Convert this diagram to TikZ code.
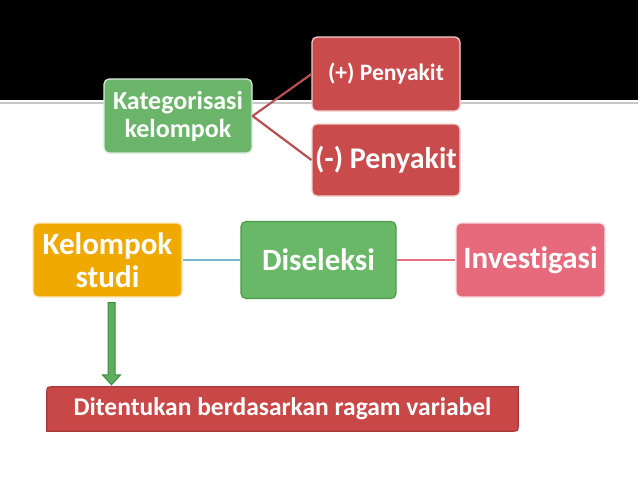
\documentclass[tikz,border=0pt]{standalone}
\usepackage{fontspec}
\setmainfont{Carlito}[Ligatures={NoCommon}]
\usetikzlibrary{calc}
\definecolor{catgreen}{HTML}{6BB56B}
\definecolor{disgreen}{HTML}{68B868}
\definecolor{disedge}{HTML}{4C9A4C}
\definecolor{penred}{HTML}{C94B4B}
\definecolor{kelorange}{HTML}{F0A900}
\definecolor{invpink}{HTML}{E66A7C}
\definecolor{botred}{HTML}{C84848}
\definecolor{botedge}{HTML}{A83838}
\definecolor{arrgreen}{HTML}{5DAE5D}
\definecolor{arredge}{HTML}{3F8A3F}
\definecolor{linkred}{HTML}{B85050}
\definecolor{linkblue}{HTML}{74B8D2}
\definecolor{linkpink}{HTML}{E27284}
\tikzset{
  box/.style={rectangle, rounded corners=5pt, text=white, align=center,
    font=\bfseries, inner sep=0pt, line width=1.2pt},
  lightbox/.style={box, draw=white!75!#1, fill=#1},
  link/.style={line width=2.2pt},
}
\begin{document}
\begin{tikzpicture}[x=1pt,y=-1pt]
\useasboundingbox (0,0) rectangle (638,479);
\fill[white] (0,0) rectangle (638,479);
\fill[black] (0,0) rectangle (638,100);
\fill[black!22] (0,101.5) rectangle (638,104);

\node[lightbox=catgreen, minimum width=148pt, minimum height=74pt,
  font=\bfseries\fontsize{26}{28}\selectfont] (kat) at (178,116) {Kategorisasi\\kelompok};
\node[lightbox=penred, minimum width=148pt, minimum height=74pt,
  font=\bfseries\fontsize{23.6}{26}\selectfont] (plus) at (386,74) {(+) Penyakit};
\node[lightbox=penred, minimum width=148pt, minimum height=72pt,
  font=\bfseries\fontsize{30}{32}\selectfont] (minus) at (386,160) {(-) Penyakit};

\node[lightbox=kelorange, minimum width=149pt, minimum height=74pt,
  font=\bfseries\fontsize{31}{33}\selectfont] (kel) at (107.5,260) {Kelompok\\studi};
\node[box, draw=disedge, fill=disgreen, minimum width=155pt, minimum height=77pt,
  font=\bfseries\fontsize{31}{33}\selectfont] (dis) at (318.5,260) {Diseleksi};
\node[lightbox=invpink, minimum width=149pt, minimum height=74pt,
  font=\bfseries\fontsize{31}{33}\selectfont] (inv) at (530.5,260) {Investigasi};

\node[text=white, inner sep=0pt, minimum width=471pt, minimum height=44pt] (bot) at (282.5,409) {};
\draw[draw=botedge, fill=botred, line width=1.2pt]
  (bot.south west) -- ($(bot.north west)+(0,7)$)
  .. controls (bot.north west) .. ($(bot.north west)+(7,0)$)
  -- (bot.north east) -- ($(bot.south east)+(0,-7)$)
  .. controls (bot.south east) .. ($(bot.south east)+(-7,0)$) -- cycle;
\node[text=white, inner sep=0pt, font=\bfseries\fontsize{25.5}{28}\selectfont]
  at (bot.center) {Ditentukan berdasarkan ragam variabel};

% connectors
\draw[linkred, link] (kat.east) -- (plus.west);
\draw[linkred, link] (kat.east) -- (minus.west);
\draw[linkblue, link] (kel.east) -- (dis.west);
\draw[linkpink, link] (dis.east) -- (inv.west);

% block arrow from kel to bot
\coordinate (as) at ($(kel.south)+(4,5)$);
\coordinate (at) at ($(bot.north)!(as)!(bot.north west)+(0,-2)$);
\draw[arredge, fill=arrgreen, line width=1pt]
  ($(as)+(-3.5,0)$) -- ($(as)+(3.5,0)$) -- ($(at)+(3.5,-10)$) -- ($(at)+(9,-10)$)
  -- (at) -- ($(at)+(-9,-10)$) -- ($(at)+(-3.5,-10)$) -- cycle;
\end{tikzpicture}
\end{document}
